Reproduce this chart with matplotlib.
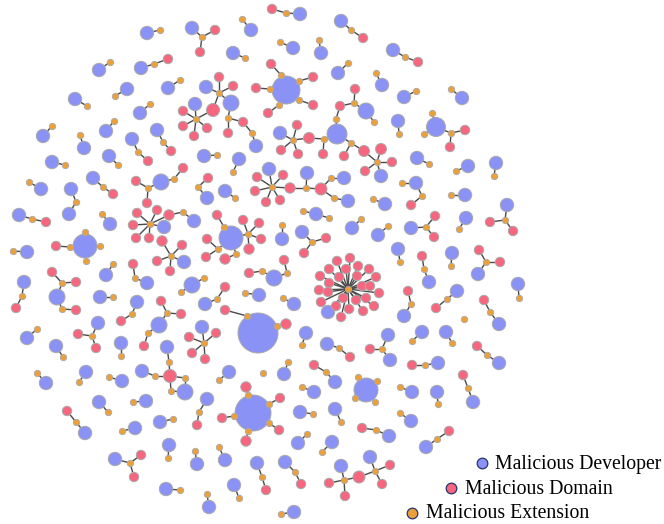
import matplotlib
matplotlib.use("Agg")
import matplotlib.pyplot as plt

# node positions (pixel space, y down); developers carry a radius
developers = {
    'v1': (147, 33, 6.7), 'v2': (192, 28, 6.7), 'v3': (99, 70, 6.7), 'v4': (141, 68, 6.7),
    'v5': (168, 88, 6.7), 'v6': (127, 89, 6.7), 'v7': (75, 99, 6.7), 'v8': (140, 113, 6.7),
    'v9a': (206, 87, 6.7), 'v9b': (231, 103, 8), 'v9c': (195, 104, 6.7), 'v9d': (256, 146, 6.7),
    'v10': (43, 136, 6.7), 'v11': (106, 131, 6.7), 'v12': (84, 148, 6.7), 'v13': (157, 130, 6.7),
    'v14': (132, 139, 6.7), 'v15': (52, 162, 6.7), 'v16': (109, 156, 6.7), 'v17': (204, 156, 6.7),
    'v18': (161, 182, 8), 'v19': (300, 14, 6.7), 'v20': (251, 30, 6.7), 'v21': (341, 21, 6.7),
    'v22': (293, 48, 6.7), 'v23': (321, 53, 6.7), 'v24': (233, 53, 6.7), 'v25': (393, 50, 6.7),
    'v26': (338, 73, 6.7), 'v27': (382, 85, 6.7), 'v28': (286, 90, 14), 'v29': (404, 97, 6.7),
    'v30a': (366, 111, 8), 'v30b': (337, 134, 10), 'v30c': (280, 133, 6.7), 'v30d': (381, 176, 6.7),
    'v31': (398, 121, 6.7), 'v32': (436, 127, 9.5), 'v33': (417, 158, 6.7), 'v34': (239, 159, 6.7),
    'v35a': (269, 169, 6.7), 'v35b': (307, 173, 6.7), 'v35c': (344, 178, 6.7), 'v35d': (348, 201, 6.7),
    'v36': (416, 183, 6.7), 'v37': (462, 98, 6.7), 'v38': (468, 166, 6.7), 'v39': (496, 163, 6.7),
    'v41': (41, 189, 6.7), 'v42a': (71, 189, 6.7), 'v42b': (69, 214, 6.7), 'v43': (93, 178, 6.7),
    'v44': (19, 215, 6.7), 'v45': (110, 224, 6.7), 'v46a': (164, 227, 6.7), 'v46b': (194, 221, 6.7),
    'v47': (184, 262, 6.7), 'v48': (85, 246, 12), 'v49': (27, 252, 6.7), 'v50': (106, 275, 6.7),
    'v51': (147, 283, 6.7), 'v52': (24, 282, 6.7), 'v53': (57, 297, 8), 'v54': (192, 285, 8),
    'v55': (100, 297, 6.7), 'v56': (137, 302, 6.7), 'v57': (159, 325, 8), 'v58': (205, 304, 6.7),
    'v59': (202, 327, 6.7), 'v60': (27, 338, 6.7), 'v61': (98, 323, 6.7), 'v62': (56, 346, 6.7),
    'v63': (121, 343, 6.7), 'v64': (207, 198, 6.7), 'v65': (225, 191, 6.7), 'v66': (231, 238, 12),
    'v67': (316, 214, 6.7), 'v68': (385, 204, 6.7), 'v69': (282, 239, 6.7), 'v70': (302, 232, 6.7),
    'v71': (352, 228, 6.7), 'v72': (378, 235, 6.7), 'v73': (411, 228, 6.7), 'v74': (398, 249, 6.7),
    'v75': (429, 282, 6.7), 'v76': (274, 278, 8), 'v77': (328, 312, 6.7), 'v78': (259, 295, 6.7),
    'v79': (294, 304, 6.7), 'v80': (258, 333, 20), 'v81': (306, 333, 6.7), 'v82': (327, 344, 6.7),
    'v83a': (388, 335, 6.7), 'v83b': (390, 360, 6.7), 'v84': (422, 332, 6.7), 'v85': (404, 316, 6.7),
    'v86': (457, 291, 6.7), 'v87': (446, 332, 6.7), 'v88': (465, 195, 6.7), 'v89': (466, 218, 6.7),
    'v90': (507, 205, 6.7), 'v91': (452, 253, 6.7), 'v92': (478, 274, 6.7), 'v93': (518, 284, 6.7),
    'v94': (499, 324, 6.7), 'v96': (499, 363, 6.7), 'v97': (473, 402, 6.7), 'v98': (426, 447, 6.7),
    'v99': (46, 383, 6.7), 'v100': (86, 372, 6.7), 'v101': (122, 381, 6.7), 'v102a': (142, 371, 6.7),
    'v102b': (167, 347, 6.7), 'v102c': (185, 392, 8), 'v103': (99, 402, 6.7), 'v104': (146, 401, 6.7),
    'v105': (85, 433, 6.7), 'v106': (160, 422, 6.7), 'v107': (135, 428, 6.7), 'v108': (207, 399, 6.7),
    'v109': (169, 445, 6.7), 'v110': (115, 459, 6.7), 'v111': (197, 464, 6.7), 'v112': (166, 489, 6.7),
    'v113': (209, 507, 6.7), 'v114': (225, 460, 6.7), 'v115': (229, 372, 6.7), 'v116': (253, 413, 18),
    'v118': (284, 374, 6.7), 'v119': (335, 382, 6.7), 'v120': (438, 363, 6.7), 'v121': (366, 390, 12),
    'v122': (314, 392, 6.7), 'v123': (412, 392, 6.7), 'v124': (437, 392, 6.7), 'v125': (300, 412, 6.7),
    'v126': (335, 409, 6.7), 'v127': (411, 421, 6.7), 'v128': (389, 436, 6.7), 'v129': (298, 443, 6.7),
    'v130': (332, 442, 6.7), 'v131': (257, 463, 6.7), 'v132': (285, 462, 6.7), 'v133': (234, 485, 6.7),
    'v134a': (341, 466, 6.7), 'v134b': (370, 457, 6.7), 'v135': (294, 512, 6.7),
}

domains = {
    'd2a': (215, 30, 4.7), 'd2b': (200, 52, 4.7), 'd4': (168, 59, 4.7),
    'd9a': (219, 77, 4.7), 'd9b': (233, 86, 4.7), 'd9big': (213, 110, 6.5), 'd9c': (228, 133, 4.7),
    'd9d': (243, 122, 4.7), 'd9e': (183, 111, 4.7), 'd9f': (183, 126, 4.7), 'd9g': (194, 136, 4.7),
    'd9h': (207, 128, 4.7), 'd13': (171, 151, 4.7), 'd14': (148, 161, 4.7),
    'd18a': (183, 168, 4.7), 'd18b': (136, 181, 4.7), 'd18c': (147, 203, 4.7),
    'd19': (272, 9, 4.7), 'd21': (363, 38, 4.7), 'd25': (418, 62, 4.7),
    'd28a': (271, 64, 4.7), 'd28b': (313, 77, 4.7), 'd28c': (256, 88, 4.7), 'd28d': (313, 105, 4.7),
    'd28e': (268, 113, 4.7),
    'd30a': (355, 89, 4.7), 'd30b': (340, 106, 4.7), 'd30c': (309, 138, 5.5), 'd30d': (323, 154, 4.7),
    'd30e': (297, 125, 4.7), 'd30f': (281, 150, 4.7), 'd30g': (298, 154, 4.7), 'd30h': (344, 156, 4.7),
    'd30i': (364, 151, 5.5), 'd30j': (381, 149, 5.5), 'd30k': (392, 162, 4.7), 'd30l': (365, 171, 4.7),
    'd32a': (465, 130, 4.7), 'd32b': (450, 147, 4.7),
    'd35a': (257, 177, 4.7), 'd35b': (255, 191, 4.7), 'd35c': (266, 202, 4.7), 'd35d': (280, 200, 4.7),
    'd35e': (283, 175, 4.7), 'd35f': (290, 188, 5.2), 'd35g': (321, 189, 6),
    'd36': (411, 205, 4.7), 'd43': (113, 194, 4.7), 'd44': (46, 222, 4.7),
    'd46a': (137, 213, 4.7), 'd46b': (157, 210, 4.7), 'd46c': (133, 225, 4.7), 'd46d': (136, 238, 4.7),
    'd46e': (149, 238, 4.7), 'd46f': (169, 215, 5.2),
    'd47a': (182, 245, 4.7), 'd47b': (157, 261, 4.7), 'd47c': (170, 271, 4.7), 'd47d': (162, 241, 5.2),
    'd48': (56, 246, 4.7), 'd51': (133, 264, 4.7), 'd52': (16, 308, 4.7),
    'd53a': (52, 272, 4.7), 'd53b': (76, 282, 4.7), 'd53c': (76, 310, 4.7), 'd56': (121, 321, 4.7),
    'd57a': (161, 301, 4.7), 'd57b': (181, 314, 4.7), 'd57c': (144, 346, 4.7), 'd58': (225, 287, 4.7),
    'd59a': (189, 337, 4.7), 'd59b': (216, 333, 4.7), 'd59c': (192, 353, 4.7), 'd59d': (205, 359, 4.7),
    'd61a': (78, 334, 4.7), 'd61b': (96, 348, 4.7), 'd64': (208, 178, 4.7),
    'd66a': (243, 220, 4.7), 'd66b': (259, 223, 4.7), 'd66c': (261, 239, 4.7), 'd66d': (249, 249, 5.2),
    'd66e': (225, 259, 5.2), 'd66f': (207, 239, 4.7), 'd66g': (206, 257, 4.7), 'd66h': (217, 215, 4.7),
    'd70a': (326, 238, 4.7), 'd70b': (304, 253, 4.7), 'd73a': (435, 216, 4.7), 'd73b': (434, 237, 4.7),
    'd75': (422, 256, 4.7), 'd76a': (284, 260, 4.7), 'd76b': (249, 273, 4.7),
    'd80a': (225, 310, 4.7), 'd80b': (286, 324, 5.2), 'd82': (350, 357, 4.7), 'd83': (370, 349, 4.7),
    'd85': (408, 291, 4.7), 'd86': (436, 308, 4.7), 'd90a': (490, 222, 4.7), 'd90b': (513, 231, 4.7),
    'd92a': (479, 250, 4.7), 'd92b': (500, 262, 4.7), 'd94': (484, 300, 4.7), 'd96': (477, 346, 4.7),
    'd97': (463, 375, 4.7), 'd98': (449, 431, 4.7), 'd102': (170, 376, 6.5), 'd105': (67, 411, 4.7),
    'd108': (197, 425, 4.7), 'd110a': (141, 455, 4.7), 'd110b': (134, 477, 4.7),
    'd116a': (246, 387, 5.2), 'd116b': (280, 398, 4.7), 'd116c': (279, 430, 4.7), 'd116d': (246, 441, 5.2),
    'd116e': (222, 418, 4.7), 'd119': (314, 365, 4.7), 'd120': (412, 365, 4.7), 'd128': (362, 428, 4.7),
    'd131': (266, 490, 4.7), 'd132': (301, 484, 4.7),
    'd134a': (329, 483, 4.7), 'd134b': (345, 496, 4.7), 'd134c': (359, 477, 6),
    'd134d': (390, 465, 4.7), 'd134e': (382, 484, 4.7),
    # the big star
    's1': (337, 261, 4.7), 's2': (350, 258, 4.7), 's3': (358, 266, 4.7), 's4': (369, 269, 4.7),
    's5': (376, 277, 4.7), 's6': (379, 293, 4.7), 's7': (374, 306, 4.7), 's8': (363, 311, 4.7),
    's9': (349, 309, 4.7), 's10': (341, 317, 4.7), 's11': (336, 306, 4.7), 's12': (321, 302, 4.7),
    's13': (319, 290, 4.7), 's14': (320, 276, 4.7), 's15': (329, 269, 4.7), 's16': (346, 269, 4.7),
    's17': (357, 276, 4.7), 's18': (362, 286, 4.7), 's19': (370, 286, 4.7), 's20': (366, 298, 4.7),
    's21': (356, 300, 4.7), 's22': (343, 298, 4.7), 's23': (329, 283, 4.7), 's24': (328, 292, 4.7),
    's25': (339, 277, 4.7),
}

extensions = {
    'e1': (160, 30), 'e2': (202, 37), 'e3': (110, 62), 'e4': (154, 64), 'e5': (180, 80), 'e6': (115, 96),
    'e7': (87, 106), 'e8': (150, 104), 'e9a': (219, 93), 'e9b': (228, 118), 'e9c': (196, 119),
    'e9d': (252, 133), 'e10': (52, 126), 'e11': (114, 121), 'e12': (80, 135), 'e13': (163, 142),
    'e14': (138, 152), 'e15': (65, 165), 'e16': (118, 165), 'e17': (217, 155), 'e18a': (174, 179),
    'e18b': (148, 188), 'e19': (286, 13), 'e20': (242, 19), 'e21': (351, 30), 'e22': (280, 42),
    'e23': (319, 40), 'e24': (245, 58), 'e25': (405, 57), 'e26': (348, 63), 'e27': (376, 73),
    'e28a': (281, 75), 'e28b': (299, 81), 'e28c': (270, 89), 'e28d': (299, 100), 'e28e': (279, 105),
    'e29': (416, 91), 'e30a': (354, 103), 'e30b': (374, 122), 'e30c': (336, 119), 'e30d': (324, 139),
    'e30e': (293, 140), 'e30f': (351, 143), 'e30g': (377, 162), 'e31': (399, 134),
    'e32a': (432, 113), 'e32b': (424, 134), 'e32c': (451, 133), 'e33': (429, 164), 'e34': (233, 172),
    'e35a': (272, 187), 'e35b': (306, 188), 'e35c': (331, 178), 'e35d': (334, 198),
    'e36a': (402, 183), 'e36b': (422, 196), 'e37': (451, 89), 'e38': (456, 171), 'e39': (494, 176),
    'e41': (29, 182), 'e42': (76, 202), 'e43': (103, 187), 'e44': (32, 219), 'e45': (102, 214),
    'e46a': (150, 224), 'e46b': (183, 212), 'e47': (171, 256), 'e48a': (85, 232), 'e48b': (100, 246),
    'e48c': (70, 247), 'e48d': (86, 261), 'e49': (13, 251), 'e50': (113, 264), 'e51': (135, 278),
    'e52': (22, 296), 'e53a': (62, 283), 'e53b': (62, 309), 'e54a': (204, 278), 'e54b': (181, 292),
    'e55': (113, 297), 'e56': (132, 314), 'e57a': (167, 313), 'e57b': (148, 333), 'e58': (217, 299),
    'e59': (204, 343), 'e60': (37, 329), 'e61': (92, 336), 'e62': (63, 357), 'e63': (121, 356),
    'e64': (198, 187), 'e65': (235, 198), 'e66a': (248, 234), 'e66b': (236, 254), 'e66c': (218, 249),
    'e66d': (224, 227), 'e67a': (303, 211), 'e67b': (329, 218), 'e68': (373, 199), 'e69': (282, 225),
    'e70': (312, 242), 'e71': (361, 219), 'e72': (388, 226), 'e73': (426, 227), 'e74': (400, 262),
    'e75': (424, 269), 'e76a': (287, 273), 'e76b': (262, 271), 'e77': (348, 289), 'e78': (245, 293),
    'e79': (283, 298), 'e80a': (247, 316), 'e80b': (277, 326), 'e81': (302, 345), 'e82': (339, 348),
    'e83': (382, 349), 'e84': (412, 341), 'e85': (411, 304), 'e86': (447, 299), 'e87': (452, 343),
    'e88': (451, 195), 'e89': (459, 229), 'e90': (505, 220), 'e91': (451, 266), 'e92': (486, 262),
    'e93': (519, 298), 'e94': (490, 312), 'e95': (464, 319), 'e96': (487, 355), 'e97': (468, 388),
    'e98': (437, 439), 'e99': (37, 373), 'e100': (79, 382), 'e101': (109, 377), 'e102a': (155, 376),
    'e102b': (169, 362), 'e102c': (185, 378), 'e102d': (171, 391), 'e103': (108, 412),
    'e104': (133, 402), 'e105': (76, 422), 'e106': (173, 419), 'e107': (122, 431), 'e108': (199, 412),
    'e109': (168, 458), 'e110': (130, 463), 'e111': (195, 451), 'e112': (180, 490), 'e113': (207, 494),
    'e114': (219, 447), 'e115': (219, 380), 'e116a': (248, 395), 'e116b': (269, 404),
    'e116c': (269, 423), 'e116d': (248, 431), 'e116e': (234, 416), 'e117': (263, 373),
    'e118': (288, 362), 'e119': (326, 372), 'e120': (425, 365), 'e121a': (358, 377),
    'e121b': (377, 381), 'e121c': (355, 398), 'e121d': (375, 402), 'e122': (302, 387),
    'e123': (400, 387), 'e124': (438, 404), 'e125': (313, 414), 'e126': (341, 422), 'e127': (400, 413),
    'e128': (376, 430), 'e129': (307, 434), 'e130': (322, 452), 'e131': (262, 477), 'e132': (295, 472),
    'e133': (239, 498), 'e134a': (344, 480), 'e134b': (375, 471), 'e135': (281, 514),
}

# every edge runs from an extension to a developer or a domain
links = {
    'e1': ['v1'], 'e2': ['v2', 'd2a', 'd2b'], 'e3': ['v3'], 'e4': ['v4', 'd4'], 'e5': ['v5'],
    'e6': ['v6'], 'e7': ['v7'], 'e8': ['v8'],
    'e9a': ['v9a', 'd9a', 'd9b', 'd9big', 'v9b'], 'e9b': ['v9b', 'd9c', 'd9d'],
    'e9c': ['v9c', 'd9e', 'd9f', 'd9g', 'd9h', 'd9big'], 'e9d': ['d9d', 'v9d'],
    'e10': ['v10'], 'e11': ['v11'], 'e12': ['v12'], 'e13': ['v13', 'd13'], 'e14': ['v14', 'd14'],
    'e15': ['v15'], 'e16': ['v16'], 'e17': ['v17'], 'e18a': ['v18', 'd18a'],
    'e18b': ['v18', 'd18b', 'd18c'], 'e19': ['d19', 'v19'], 'e20': ['v20'], 'e21': ['v21', 'd21'],
    'e22': ['v22'], 'e23': ['v23'], 'e24': ['v24'], 'e25': ['v25', 'd25'], 'e26': ['v26'],
    'e27': ['v27'], 'e28a': ['v28', 'd28a'], 'e28b': ['v28', 'd28b'], 'e28c': ['v28', 'd28c'],
    'e28d': ['v28', 'd28d'], 'e28e': ['v28', 'd28e'], 'e29': ['v29'],
    'e30a': ['d30a', 'd30b', 'v30a'], 'e30b': ['v30a'], 'e30c': ['d30b', 'v30b'],
    'e30d': ['v30b', 'd30c', 'd30d'], 'e30e': ['d30c', 'd30e', 'd30f', 'd30g', 'v30c'],
    'e30f': ['v30b', 'd30h', 'd30i'], 'e30g': ['d30i', 'd30j', 'd30k', 'd30l', 'v30d'],
    'e31': ['v31'], 'e32a': ['v32'], 'e32b': ['v32'], 'e32c': ['v32', 'd32a', 'd32b'],
    'e33': ['v33'], 'e34': ['v34'],
    'e35a': ['v35a', 'd35a', 'd35b', 'd35c', 'd35d', 'd35e', 'd35f'], 'e35b': ['d35f', 'd35g', 'v35b'],
    'e35c': ['d35g', 'v35c'], 'e35d': ['d35g', 'v35d'], 'e36a': ['v36'], 'e36b': ['v36', 'd36'],
    'e37': ['v37'], 'e38': ['v38'], 'e39': ['v39'], 'e41': ['v41'], 'e42': ['v42a', 'v42b'],
    'e43': ['v43', 'd43'], 'e44': ['v44', 'd44'], 'e45': ['v45'],
    'e46a': ['d46a', 'd46b', 'd46c', 'd46d', 'd46e', 'd46f', 'v46a'], 'e46b': ['d46f', 'v46b'],
    'e47': ['d47a', 'd47b', 'd47c', 'd47d', 'v47'], 'e48a': ['v48'], 'e48b': ['v48'],
    'e48c': ['v48', 'd48'], 'e48d': ['v48'], 'e49': ['v49'], 'e50': ['v50'], 'e51': ['d51', 'v51'],
    'e52': ['v52', 'd52'], 'e53a': ['v53', 'd53a', 'd53b'], 'e53b': ['v53', 'd53c'],
    'e54a': ['v54'], 'e54b': ['v54'], 'e55': ['v55'], 'e56': ['v56', 'd56'],
    'e57a': ['d57a', 'd57b', 'v57'], 'e57b': ['v57', 'd57c'], 'e58': ['v58', 'd58'],
    'e59': ['v59', 'd59a', 'd59b', 'd59c', 'd59d'], 'e60': ['v60'], 'e61': ['d61a', 'v61', 'd61b'],
    'e62': ['v62'], 'e63': ['v63'], 'e64': ['v64', 'd64'], 'e65': ['v65'],
    'e66a': ['v66', 'd66a', 'd66b', 'd66c', 'd66d'], 'e66b': ['v66', 'd66e'],
    'e66c': ['v66', 'd66f', 'd66g'], 'e66d': ['v66', 'd66h'], 'e67a': ['v67'], 'e67b': ['v67'],
    'e68': ['v68'], 'e69': ['v69'], 'e70': ['v70', 'd70a', 'd70b'], 'e71': ['v71'], 'e72': ['v72'],
    'e73': ['v73', 'd73a', 'd73b'], 'e74': ['v74'], 'e75': ['d75', 'v75'],
    'e76a': ['d76a', 'v76'], 'e76b': ['v76', 'd76b'],
    'e77': ['v77'] + ['s%d' % i for i in range(1, 26)],
    'e78': ['v78'], 'e79': ['v79'], 'e80a': ['v80', 'd80a'], 'e80b': ['v80', 'd80b'],
    'e81': ['v81'], 'e82': ['v82', 'd82'], 'e83': ['v83a', 'v83b', 'd83'], 'e84': ['v84'],
    'e85': ['d85', 'v85'], 'e86': ['d86', 'v86'], 'e87': ['v87'], 'e88': ['v88'], 'e89': ['v89'],
    'e90': ['v90', 'd90a', 'd90b'], 'e91': ['v91'], 'e92': ['d92a', 'd92b', 'v92'], 'e93': ['v93'],
    'e94': ['d94', 'v94'], 'e96': ['d96', 'v96'], 'e97': ['d97', 'v97'], 'e98': ['v98', 'd98'],
    'e99': ['v99'], 'e100': ['v100'], 'e101': ['v101'], 'e102a': ['d102', 'v102a'],
    'e102b': ['d102', 'v102b'], 'e102c': ['d102', 'v102c'], 'e102d': ['d102', 'v102c'],
    'e103': ['v103'], 'e104': ['v104'], 'e105': ['d105', 'v105'], 'e106': ['v106'], 'e107': ['v107'],
    'e108': ['v108', 'd108'], 'e109': ['v109'], 'e110': ['v110', 'd110a', 'd110b'], 'e111': ['v111'],
    'e112': ['v112'], 'e113': ['v113'], 'e114': ['v114'], 'e115': ['v115'],
    'e116a': ['v116', 'd116a'], 'e116b': ['v116', 'd116b'], 'e116c': ['v116', 'd116c'],
    'e116d': ['v116', 'd116d'], 'e116e': ['v116', 'd116e'], 'e118': ['v118'],
    'e119': ['d119', 'v119'], 'e120': ['d120', 'v120'], 'e121a': ['v121'], 'e121b': ['v121'],
    'e121c': ['v121'], 'e121d': ['v121'], 'e122': ['v122'], 'e123': ['v123'], 'e124': ['v124'],
    'e125': ['v125'], 'e126': ['v126'], 'e127': ['v127'], 'e128': ['d128', 'v128'], 'e129': ['v129'],
    'e130': ['v130'], 'e131': ['v131', 'd131'], 'e132': ['v132', 'd132'], 'e133': ['v133'],
    'e134a': ['v134a', 'd134a', 'd134b', 'd134c'], 'e134b': ['d134c', 'v134b', 'd134d', 'd134e'],
    'e135': ['v135'],
}

legend_labels = ['Malicious Developer', 'Malicious Domain', 'Malicious Extension']

BLUE = '#8a92f6'
PINK = '#f6677f'
ORANGE = '#eca03c'
EDGE = '#4a4a4a'
RIM = '#a9a9a9'

W, H = 664, 524
fig = plt.figure(figsize=(W / 100, H / 100), dpi=100)
ax = fig.add_axes([0, 0, 1, 1])
ax.set_xlim(0, W)
ax.set_ylim(H, 0)
ax.axis('off')


def size(r):
    # radius in px -> scatter area in pt^2
    return (2 * r * 0.72) ** 2


allpos = {}
for k, (x, y, r) in developers.items():
    allpos[k] = (x, y)
for k, (x, y, r) in domains.items():
    allpos[k] = (x, y)
for k, (x, y) in extensions.items():
    allpos[k] = (x, y)

for ext, nbrs in links.items():
    x0, y0 = allpos[ext]
    for n in nbrs:
        x1, y1 = allpos[n]
        ax.plot([x0, x1], [y0, y1], color=EDGE, lw=1.0, zorder=1, solid_capstyle='round')

dv = list(developers.values())
ax.scatter([d[0] for d in dv], [d[1] for d in dv], s=[size(d[2]) for d in dv],
           c=BLUE, edgecolors=RIM, linewidths=0.7, zorder=2)
dm = list(domains.values())
ax.scatter([d[0] for d in dm], [d[1] for d in dm], s=[size(d[2]) for d in dm],
           c=PINK, edgecolors=RIM, linewidths=0.7, zorder=3)
ex = list(extensions.values())
ax.scatter([d[0] for d in ex], [d[1] for d in ex], s=size(3.2),
           c=ORANGE, edgecolors=RIM, linewidths=0.6, zorder=4)

# legend drawn by hand, staggered like the original
leg_colors = [BLUE, PINK, ORANGE]
leg_marker = [(482, 463), (451, 488), (412, 513)]
leg_text_x = [495, 465, 426]
for lab, col, (mx, my), tx in zip(legend_labels, leg_colors, leg_marker, leg_text_x):
    ax.scatter([mx], [my], s=size(5.3), c=col, edgecolors='#27346b', linewidths=0.9, zorder=5,
               clip_on=False)
    ax.text(tx, my + 1, lab, fontsize=14.2, family='Liberation Serif', va='center', ha='left',
            color='black', zorder=5)

fig.savefig('out.png', dpi=100)
